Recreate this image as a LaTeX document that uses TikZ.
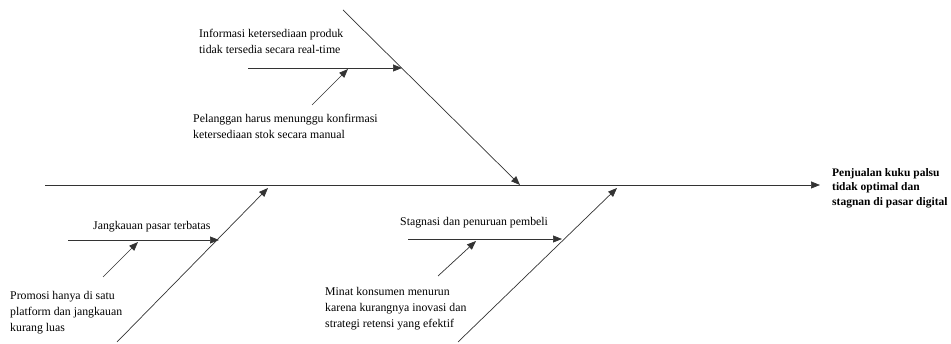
\documentclass[tikz,border=0pt]{standalone}
\usepackage{fontspec}
\setmainfont{Liberation Serif}
\usetikzlibrary{arrows.meta}

\begin{document}
\begin{tikzpicture}[x=1pt,y=-1pt,
    bone/.style={draw=black!80,line width=0.7pt,-{Triangle[length=9pt,width=7pt]}},
    cause/.style={anchor=north west,inner sep=0pt,align=left,font=\fontsize{11.8}{16}\selectfont},
    effect/.style={cause,font=\fontsize{11.5}{14.5}\selectfont\bfseries}]
    \useasboundingbox (0,0) rectangle (951,344);
    % spine and effect
    \coordinate (tail) at (45,185);
    \coordinate (head) at (820,185);
    \node[effect] (problem) at (832,168) {Penjualan kuku palsu\\tidak optimal dan\\stagnan di pasar digital};
    \draw[bone] (tail) -- (head);
    % upper bone
    \coordinate (up start) at (343,10);
    \coordinate (up end) at (520,185);
    \coordinate (info start) at (248,68);
    \coordinate (info end) at (402,68);
    \coordinate (wait start) at (312,105);
    \coordinate (wait end) at (348,69);
    \draw[bone] (up start) -- (up end);
    \draw[bone] (info start) -- (info end);
    \draw[bone] (wait start) -- (wait end);
    \node[cause] (info) at (199,29) {Informasi ketersediaan produk\\tidak tersedia secara real-time};
    \node[cause] (wait) at (193,114) {Pelanggan harus menunggu konfirmasi\\ketersediaan stok secara manual};
    % lower left bone
    \coordinate (ll start) at (117,342);
    \coordinate (ll end) at (268,188);
    \coordinate (reach start) at (68,240);
    \coordinate (reach end) at (219,240);
    \coordinate (promo start) at (103,277);
    \coordinate (promo end) at (138,242);
    \draw[bone] (ll start) -- (ll end);
    \draw[bone] (reach start) -- (reach end);
    \draw[bone] (promo start) -- (promo end);
    \node[cause] (reach) at (93,221) {Jangkauan pasar terbatas};
    \node[cause] (promo) at (10,291) {Promosi hanya di satu\\platform dan jangkauan\\kurang luas};
    % lower right bone
    \coordinate (lr start) at (458,342);
    \coordinate (lr end) at (617,188);
    \coordinate (stag start) at (408,239);
    \coordinate (stag end) at (562,239);
    \coordinate (minat start) at (438,276);
    \coordinate (minat end) at (476,241);
    \draw[bone] (lr start) -- (lr end);
    \draw[bone] (stag start) -- (stag end);
    \draw[bone] (minat start) -- (minat end);
    \node[cause] (stag) at (400,217) {Stagnasi dan penuruan pembeli};
    \node[cause] (minat) at (325,287) {Minat konsumen menurun\\karena kurangnya inovasi dan\\strategi retensi yang efektif};
\end{tikzpicture}
\end{document}
